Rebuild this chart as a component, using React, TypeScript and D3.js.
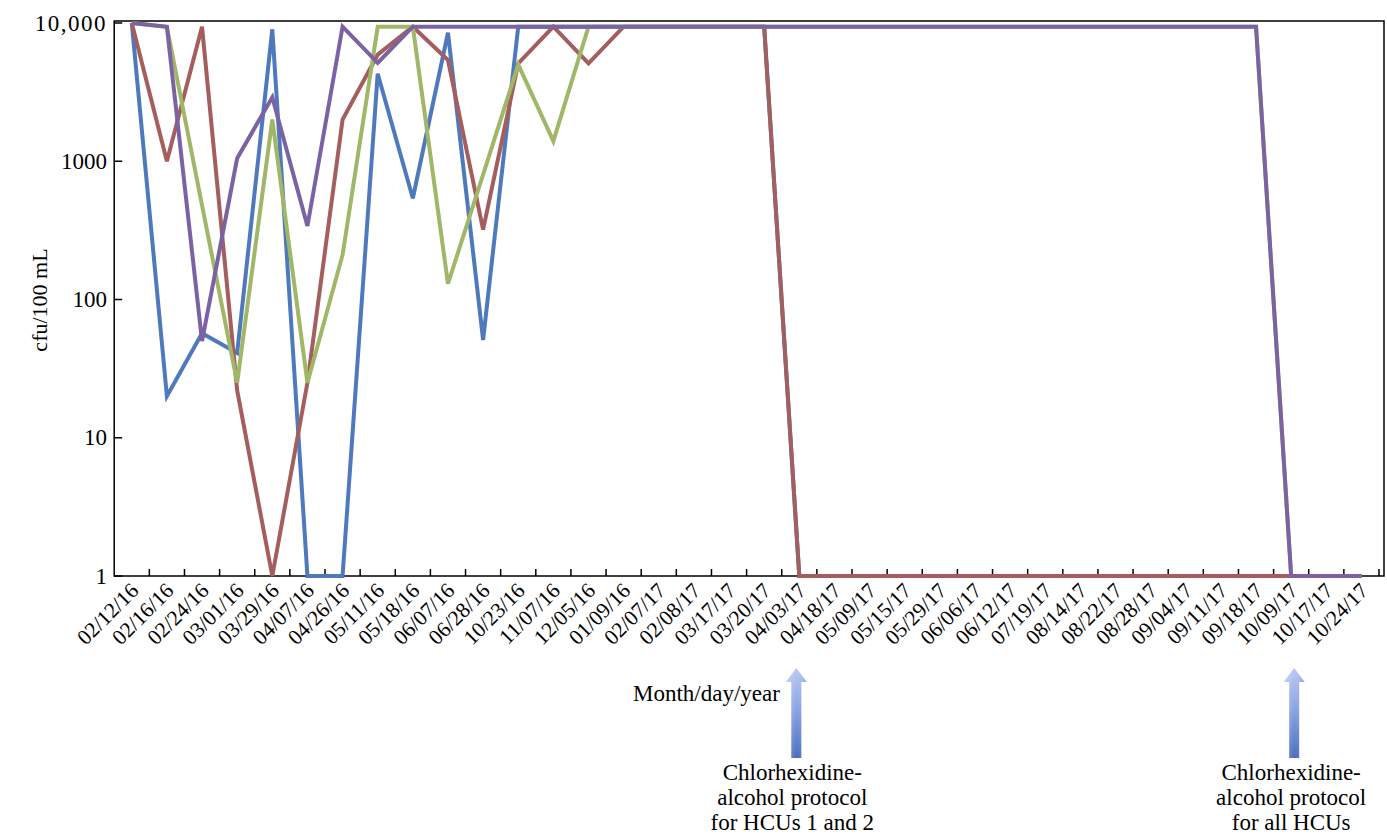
import React from "react";
import * as d3 from "d3";

const categories = [
  "02/12/16", "02/16/16", "02/24/16", "03/01/16", "03/29/16", "04/07/16",
  "04/26/16", "05/11/16", "05/18/16", "06/07/16", "06/28/16", "10/23/16",
  "11/07/16", "12/05/16", "01/09/16", "02/07/17", "02/08/17", "03/17/17",
  "03/20/17", "04/03/17", "04/18/17", "05/09/17", "05/15/17", "05/29/17",
  "06/06/17", "06/12/17", "07/19/17", "08/14/17", "08/22/17", "08/28/17",
  "09/04/17", "09/11/17", "09/18/17", "10/09/17", "10/17/17", "10/24/17",
];

const seriesBlue = [
  10000, 20, 57, 41, 9000, 1, 1, 4300, 540, 8500, 51, 9400,
  9400, 9400, 9400, 9400, 9400, 9400, 9400, 1, 1, 1, 1, 1,
  1, 1, 1, 1, 1, 1, 1, 1, 1, 1, 1, 1,
];
const seriesRed = [
  10000, 1000, 9400, 22, 1, 25, 2000, 5900, 9400, 5400, 320, 5100,
  9400, 5100, 9400, 9400, 9400, 9400, 9400, 1, 1, 1, 1, 1,
  1, 1, 1, 1, 1, 1, 1, 1, 1, 1, 1, 1,
];
const seriesGreen = [
  10000, 9400, 480, 25, 2000, 25, 210, 9400, 9400, 130, 800, 5000,
  1400, 9400, 9400, 9400, 9400, 9400, 9400, 9400, 9400, 9400, 9400, 9400,
  9400, 9400, 9400, 9400, 9400, 9400, 9400, 9400, 9400, 1, 1, 1,
];
const seriesPurple = [
  10000, 9400, 50, 1050, 2900, 340, 9400, 5150, 9400, 9400, 9400, 9400,
  9400, 9400, 9400, 9400, 9400, 9400, 9400, 9400, 9400, 9400, 9400, 9400,
  9400, 9400, 9400, 9400, 9400, 9400, 9400, 9400, 9400, 1, 1, 1,
];

const yTicks = [1, 10, 100, 1000, 10000];
const yTickLabels = ["1", "10", "100", "1000", "10,000"];

const seriesList = [
  { name: "HCU 1", values: seriesBlue, color: "#4f79bd" },
  { name: "HCU 2", values: seriesRed, color: "#a35e5d" },
  { name: "HCU 3", values: seriesGreen, color: "#a1b768" },
  { name: "HCU 4", values: seriesPurple, color: "#7a62a3" },
];

const annotations = [
  { date: "04/03/17", lines: ["Chlorhexidine-", "alcohol protocol", "for HCUs 1 and 2"], dx: -3, tdx: -4 },
  { date: "10/09/17", lines: ["Chlorhexidine-", "alcohol protocol", "for all HCUs"], dx: 3, tdx: -3 },
];

const FONT = "'Liberation Serif', 'Times New Roman', serif";

export default function App() {
  const width = 1387;
  const height = 836;
  const left = 114.2;
  const right = 1379;
  const top = 21;
  const bottom = 576;
  const frameRight = 1384;

  const x = d3.scaleBand<string>().domain(categories).range([left, right]).padding(0);
  const bw = x.bandwidth();
  const cx = (c: string) => (x(c) as number) + bw / 2;
  const y = d3.scaleLog().domain([1, 10000]).range([bottom, 23]);

  const line = d3
    .line<number>()
    .x((_, i) => cx(categories[i]))
    .y((v) => y(v));

  return (
    <svg
      width={width}
      height={height}
      style={{ position: "absolute", left: 0, top: 0, background: "#fff" }}
      fontFamily={FONT}
    >
      <defs>
        <linearGradient id="arrowGrad" x1="0" y1="0" x2="0" y2="1">
          <stop offset="0%" stopColor="#b9c9f2" />
          <stop offset="45%" stopColor="#8aa4e4" />
          <stop offset="100%" stopColor="#4a6dc0" />
        </linearGradient>
        <linearGradient id="arrowShade" x1="0" y1="0" x2="1" y2="0">
          <stop offset="0%" stopColor="#ffffff" stopOpacity={0.3} />
          <stop offset="50%" stopColor="#ffffff" stopOpacity={0} />
          <stop offset="100%" stopColor="#1a3a90" stopOpacity={0.2} />
        </linearGradient>
      </defs>

      {/* frame */}
      <rect x={left} y={top} width={frameRight - left} height={bottom - top} fill="none" stroke="#000" strokeWidth={1.5} />

      {/* y ticks */}
      {yTicks.map((t, i) => (
        <g key={t}>
          <line x1={left} x2={left + 8} y1={y(t)} y2={y(t)} stroke="#000" strokeWidth={1.5} />
          <text
            x={107}
            y={y(t) + 7.5}
            textAnchor="end"
            fontSize={23}
            letterSpacing={t === 10000 ? 1.5 : 0}
          >
            {yTickLabels[i]}
          </text>
        </g>
      ))}

      {/* x ticks */}
      {categories.map((c) => (
        <line
          key={c}
          x1={(x(c) as number) + bw}
          x2={(x(c) as number) + bw}
          y1={bottom}
          y2={bottom - 7}
          stroke="#000"
          strokeWidth={1.5}
        />
      ))}

      {/* x labels */}
      {categories.map((c) => {
        const ax = cx(c) + 8;
        const ay = 592;
        return (
          <text key={c} x={ax} y={ay} textAnchor="end" fontSize={21.5} transform={`rotate(-45 ${ax} ${ay})`}>
            {c}
          </text>
        );
      })}

      {/* lines */}
      {seriesList.map((s) => (
        <path
          key={s.name}
          d={line(s.values) as string}
          fill="none"
          stroke={s.color}
          strokeWidth={4}
          strokeLinejoin="miter"
          strokeMiterlimit={4}
        />
      ))}

      {/* y axis title */}
      <text
        x={0}
        y={0}
        transform={`translate(47 300) rotate(-90)`}
        textAnchor="middle"
        fontSize={22}
      >
        cfu/100 mL
      </text>

      {/* x axis title */}
      <text x={633} y={701} fontSize={23}>
        Month/day/year
      </text>

      {/* arrows and annotations */}
      {annotations.map((a) => {
        const ax = cx(a.date) + a.dx;
        const tipY = 668;
        const headY = 682;
        const baseY = 758;
        const d = `M${ax - 5},${baseY} L${ax - 5},${headY} L${ax - 10.5},${headY} L${ax},${tipY} L${ax + 10.5},${headY} L${ax + 5},${headY} L${ax + 5},${baseY} Z`;
        return (
          <g key={a.date}>
            <path d={d} fill="url(#arrowGrad)" />
            <path d={d} fill="url(#arrowShade)" />
            {a.lines.map((l, i) => (
              <text key={i} x={ax + a.tdx} y={780 + i * 25} textAnchor="middle" fontSize={23}>
                {l}
              </text>
            ))}
          </g>
        );
      })}
    </svg>
  );
}
